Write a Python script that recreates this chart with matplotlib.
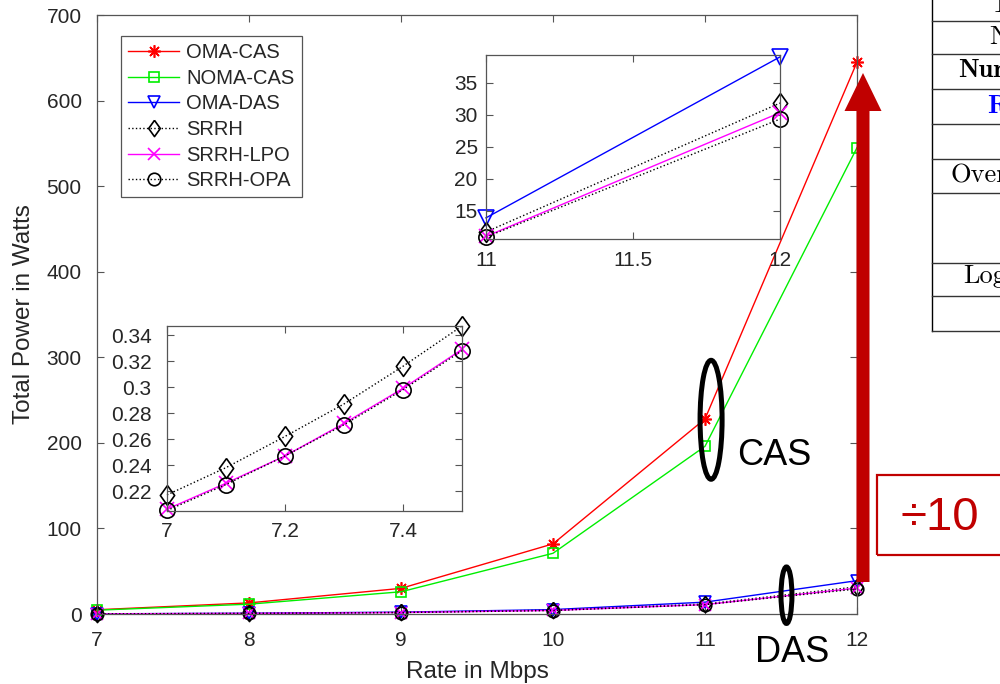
import matplotlib
matplotlib.use('Agg')
import matplotlib.pyplot as plt
from matplotlib.patches import Ellipse, FancyArrow, Rectangle
from matplotlib.lines import Line2D

# ---------------- data ----------------
rates = [7, 8, 9, 10, 11, 12]
oma_cas = [5, 13, 30, 82, 228, 645]
noma_cas = [4.5, 11.5, 26, 71, 196, 545]
oma_das = [0.26, 0.9, 2.2, 5.2, 13.9, 39.0]
srrh = [0.217, 0.75, 1.9, 4.5, 11.7, 31.8]
srrh_lpo = [0.206, 0.70, 1.75, 4.2, 11.0, 30.3]
srrh_opa = [0.205, 0.69, 1.72, 4.1, 10.9, 29.3]

fine_rates = [7.0, 7.1, 7.2, 7.3, 7.4, 7.5]
srrh_fine = [0.217, 0.238, 0.262, 0.287, 0.316, 0.347]
srrh_lpo_fine = [0.206, 0.226, 0.247, 0.272, 0.299, 0.329]
srrh_opa_fine = [0.205, 0.225, 0.247, 0.271, 0.298, 0.328]

main_xticks = [7, 8, 9, 10, 11, 12]
main_yticks = [0, 100, 200, 300, 400, 500, 600, 700]
in1_xticks = [7, 7.2, 7.4]
in1_yticks = [0.22, 0.24, 0.26, 0.28, 0.30, 0.32, 0.34]
in1_yticklabels = ['0.22', '0.24', '0.26', '0.28', '0.3', '0.32', '0.34']
in2_xticks = [11, 11.5, 12]
in2_yticks = [15, 20, 25, 30, 35]

series_names = ['OMA-CAS', 'NOMA-CAS', 'OMA-DAS', 'SRRH', 'SRRH-LPO', 'SRRH-OPA']

table_rows = ['T', 'N', 'Num', 'R', 'Over', 'Log']

# ---------------- style ----------------
plt.rcParams['font.family'] = ['Liberation Sans', 'DejaVu Sans']
SPINE = '#555555'
TXT = '#262626'
DARKRED = '#C00000'

asterisk = (8, 2, 0)
diamond = [(0, 1), (0.72, 0), (0, -1), (-0.72, 0), (0, 1)]

styles = {
    'OMA-CAS': dict(color='#FF0000', ls='-', marker=asterisk, scale=1.0),
    'NOMA-CAS': dict(color='#00EE00', ls='-', marker='s', scale=0.8),
    'OMA-DAS': dict(color='#0000FF', ls='-', marker='v', scale=1.0),
    'SRRH': dict(color='black', ls=':', marker=diamond, scale=1.3),
    'SRRH-LPO': dict(color='#FF00FF', ls='-', marker='x', scale=0.9),
    'SRRH-OPA': dict(color='black', ls=':', marker='o', scale=1.0),
}


def draw(ax, name, x, y, ms, lw=1.0):
    s = styles[name]
    ax.plot(x, y, color=s['color'], ls=s['ls'], lw=lw, marker=s['marker'],
            ms=ms * s['scale'], mfc='none', mec=s['color'], mew=1.2,
            clip_on=False, label=name)


def style_axes(ax, fs, xpad, ypad):
    for sp in ax.spines.values():
        sp.set_color(SPINE)
        sp.set_linewidth(0.9)
    ax.tick_params(direction='in', top=True, right=True, length=5,
                   width=0.8, color=SPINE, labelcolor=TXT, labelsize=fs)
    ax.tick_params(axis='x', pad=xpad)
    ax.tick_params(axis='y', pad=ypad)


fig = plt.figure(figsize=(10, 6.84), dpi=100)

# ---------------- main axes ----------------
ax = fig.add_axes([0.097, 0.1023, 0.760, 0.8757])
main_data = [oma_cas, noma_cas, oma_das, srrh, srrh_lpo, srrh_opa]
for name, vals in zip(series_names, main_data):
    draw(ax, name, rates, vals, ms=9)
ax.set_xlim(7, 12)
ax.set_ylim(0, 700)
ax.set_xticks(main_xticks)
ax.set_yticks(main_yticks)
style_axes(ax, 15, 12, 11)
ax.set_xlabel('Rate in Mbps', fontsize=17.5, color=TXT, labelpad=8.5)
ax.set_ylabel('Total Power in Watts', fontsize=17.5, color=TXT, labelpad=8)

leg = ax.legend(loc='upper left', bbox_to_anchor=(0.121, 1 - 36 / 684),
                bbox_transform=fig.transFigure, fontsize=14.5, frameon=True,
                fancybox=False, edgecolor=SPINE, framealpha=1,
                handlelength=2.55, handletextpad=0.35, labelspacing=0.33,
                borderpad=0.35, borderaxespad=0)
leg.get_frame().set_linewidth(0.9)
for t in leg.get_texts():
    t.set_color(TXT)

# annotation ellipses
ax.add_patch(Ellipse((11.04, 227), 0.145, 139, fill=False, ec='black',
                     lw=3.6, zorder=10, clip_on=False))
ax.add_patch(Ellipse((11.536, 22), 0.072, 66, fill=False, ec='black',
                     lw=3.6, zorder=10, clip_on=False))
ax.text(11.21, 185, 'CAS', fontsize=26, color='black', ha='left', va='center')
ax.text(11.575, -45, 'DAS', fontsize=26, color='black', ha='center',
        va='center', clip_on=False)

# ---------------- inset 1 ----------------
ax1 = fig.add_axes([0.167, 0.2529, 0.295, 0.2705])
for name, vals in zip(['SRRH', 'SRRH-LPO', 'SRRH-OPA'],
                      [srrh_fine, srrh_lpo_fine, srrh_opa_fine]):
    draw(ax1, name, fine_rates, vals, ms=11)
ax1.set_xlim(7, 7.5)
ax1.set_ylim(0.2046, 0.347)
ax1.set_xticks(in1_xticks)
ax1.set_xticklabels(['7', '7.2', '7.4'])
ax1.set_yticks(in1_yticks)
ax1.set_yticklabels(in1_yticklabels)
style_axes(ax1, 15, 8, 11)

# ---------------- inset 2 ----------------
ax2 = fig.add_axes([0.486, 0.6506, 0.294, 0.2690])
for name, vals in zip(series_names[2:], main_data[2:]):
    draw(ax2, name, rates[4:], vals[4:], ms=11)
ax2.set_xlim(11, 12)
ax2.set_ylim(10.6, 39.3)
ax2.set_xticks(in2_xticks)
ax2.set_xticklabels(['11', '11.5', '12'])
ax2.set_yticks(in2_yticks)
style_axes(ax2, 15, 9, 6)

# ---------------- red arrow and ÷10 box (figure inches) ----------------
tr = fig.dpi_scale_trans
arrow = FancyArrow(8.63, (684 - 582) / 100, 0, (582 - 73) / 100,
                   width=0.13, head_width=0.37, head_length=0.38,
                   length_includes_head=True, color=DARKRED, ec='none',
                   transform=tr, zorder=20)
fig.add_artist(arrow)
box = Rectangle((8.77, (684 - 555) / 100), 1.4, 0.80, fill=False,
                ec=DARKRED, lw=1.6, transform=tr, zorder=20)
fig.add_artist(box)
fig.text(9.40, (684 - 518) / 100, '÷10', transform=tr, fontsize=34,
         color=DARKRED, ha='center', va='center', zorder=21)

# ---------------- partial table on the right ----------------
tx = 9.32
fig.add_artist(Line2D([tx, tx], [6.84, (684 - 331) / 100], color='black',
                      lw=1.0, transform=tr))
for py in [20.7, 54.3, 89.3, 124.3, 159.3, 192.7, 262.7, 296, 331]:
    fig.add_artist(Line2D([tx, 10.0], [(684 - py) / 100] * 2, color='#333333',
                          lw=1.0, transform=tr))

row_pos = [(9.90, 11.7), (9.89, 44), (9.58, 77), (9.87, 112.7),
           (9.51, 182.7), (9.63, 282.7)]
row_fmt = [('cmr10', 'black'), ('cmr10', 'black'), ('cmb10', 'black'),
           ('cmb10', '#0000FF'), ('cmr10', 'black'), ('cmr10', 'black')]
for label, (px, py), (fam, col) in zip(table_rows, row_pos, row_fmt):
    fig.text(px, (684 - py) / 100, label, transform=tr, fontsize=19,
             family=fam, color=col, ha='left', va='baseline')

fig.savefig('out.png', dpi=100)
